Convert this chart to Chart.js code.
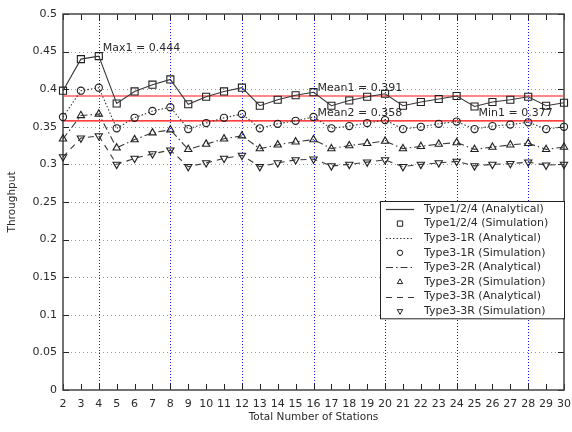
<!DOCTYPE html>
<html>
<head>
<meta charset="utf-8">
<script src="https://cdn.jsdelivr.net/npm/chart.js@4/dist/chart.umd.min.js"></script>
<style>
  html, body { margin: 0; padding: 0; background: #fff; }
</style>
</head>
<body>
<canvas id="chart" width="572" height="432"></canvas>
<script>
// x axis: total number of stations
const STATIONS = [2, 3, 4, 5, 6, 7, 8, 9, 10, 11, 12, 13, 14, 15, 16, 17, 18, 19, 20, 21, 22, 23, 24, 25, 26, 27, 28, 29, 30];
const Y_TICKS = [0, 0.05, 0.1, 0.15, 0.2, 0.25, 0.3, 0.35, 0.4, 0.45, 0.5];
const GRID_X = [4, 8, 12, 16, 20, 24, 28];

// throughput per station count (simulation points sit on the analytical curves)
const TYPE124 = [0.398, 0.440, 0.444, 0.381, 0.397, 0.406, 0.413, 0.380, 0.390, 0.397, 0.402, 0.378, 0.386, 0.392, 0.396,
                 0.378, 0.385, 0.390, 0.394, 0.378, 0.383, 0.387, 0.391, 0.377, 0.383, 0.386, 0.390, 0.378, 0.382];
const TYPE3_1R = [0.363, 0.398, 0.402, 0.348, 0.362, 0.371, 0.376, 0.347, 0.355, 0.362, 0.367, 0.348, 0.354, 0.358, 0.363,
                  0.348, 0.351, 0.355, 0.359, 0.347, 0.350, 0.354, 0.357, 0.347, 0.351, 0.353, 0.356, 0.347, 0.350];
const TYPE3_2R = [0.334, 0.365, 0.367, 0.322, 0.333, 0.342, 0.346, 0.320, 0.327, 0.334, 0.338, 0.321, 0.326, 0.330, 0.333,
                  0.321, 0.325, 0.328, 0.331, 0.321, 0.324, 0.327, 0.329, 0.320, 0.323, 0.326, 0.328, 0.320, 0.323];
const TYPE3_3R = [0.310, 0.335, 0.338, 0.300, 0.308, 0.314, 0.319, 0.297, 0.302, 0.308, 0.312, 0.297, 0.302, 0.306, 0.307,
                  0.298, 0.300, 0.303, 0.306, 0.297, 0.300, 0.302, 0.304, 0.298, 0.300, 0.301, 0.303, 0.299, 0.300];

const MEAN1 = 0.391;
const MEAN2 = 0.358;

const NOTES = [
  { text: "Max1 = 0.444", x: 4, y: 0.444 },
  { text: "Mean1 = 0.391", x: 16, y: MEAN1 },
  { text: "Mean2 = 0.358", x: 16, y: MEAN2 },
  { text: "Min1 = 0.377", x: 25, y: MEAN2 }
];

const FONT = { family: "DejaVu Sans", size: 11 };
const SMALL = { family: "DejaVu Sans", size: 10.5 };
const TEXT = "#2a2a2a";
const LINE = "#383838";
const MARK = "#202020";

function pts(values) {
  return STATIONS.map((s, i) => ({ x: s, y: values[i] }));
}

function analytical(label, values, dash) {
  return { label: label, data: pts(values), borderColor: LINE, borderWidth: 1.1, borderDash: dash,
           pointRadius: 0, pointHoverRadius: 0, tension: 0, clip: false, inLegend: true };
}

function simulation(label, values, style, radius, rotation) {
  return { label: label, data: pts(values), showLine: false, pointStyle: style, pointRadius: radius,
           pointRotation: rotation || 0, pointBorderColor: MARK, pointBackgroundColor: "rgba(255,255,255,0)",
           pointBorderWidth: 1.1, clip: false, inLegend: true };
}

function meanLine(value, color, width) {
  return { label: "", data: [{ x: STATIONS[0], y: value }, { x: STATIONS[STATIONS.length - 1], y: value }],
           borderColor: color, borderWidth: width, pointRadius: 0, tension: 0, inLegend: false };
}

// grid, frame and inward tick marks (gnuplot look)
const framePlugin = {
  id: "frame",
  beforeDatasetsDraw(chart) {
    const { ctx, chartArea: a, scales: { x, y } } = chart;
    const line = (x1, y1, x2, y2) => { ctx.beginPath(); ctx.moveTo(x1, y1); ctx.lineTo(x2, y2); ctx.stroke(); };
    ctx.save();
    ctx.lineWidth = 1;

    ctx.strokeStyle = "#9a9a9a";
    ctx.setLineDash([1, 3]);
    Y_TICKS.forEach(v => {
      if (v <= Y_TICKS[0] || v >= Y_TICKS[Y_TICKS.length - 1]) return;
      const py = Math.round(y.getPixelForValue(v)) + 0.5;
      line(a.left, py, a.right, py);
    });

    ctx.strokeStyle = "#1010ff";
    ctx.setLineDash([1, 2]);
    GRID_X.forEach(v => {
      const px = Math.round(x.getPixelForValue(v)) + 0.5;
      line(px, a.top, px, a.bottom);
    });

    ctx.setLineDash([]);
    ctx.strokeStyle = "#222";
    STATIONS.forEach(v => {
      const px = Math.round(x.getPixelForValue(v)) + 0.5;
      line(px, a.bottom, px, a.bottom - 6);
      line(px, a.top, px, a.top + 6);
    });
    Y_TICKS.forEach(v => {
      const py = Math.round(y.getPixelForValue(v)) + 0.5;
      line(a.left, py, a.left + 6, py);
      line(a.right, py, a.right - 6, py);
    });

    ctx.strokeStyle = "#444";
    ctx.lineWidth = 1.5;
    ctx.strokeRect(a.left, a.top, a.right - a.left, a.bottom - a.top);
    ctx.restore();
  }
};

// text labels and the boxed key in the lower right of the plot
const overlayPlugin = {
  id: "overlay",
  afterDatasetsDraw(chart) {
    const { ctx, chartArea: a, scales: { x, y } } = chart;
    ctx.save();
    ctx.font = FONT.size + "px " + FONT.family;
    ctx.fillStyle = TEXT;
    ctx.textBaseline = "middle";
    ctx.textAlign = "left";
    NOTES.forEach(n => {
      ctx.fillText(n.text, x.getPixelForValue(n.x) + 4, y.getPixelForValue(n.y) - 8);
    });

    const items = chart.data.datasets.filter(d => d.inLegend);
    const w = 184, rowH = 14.6;
    const h = items.length * rowH + 0.5;
    const left = a.right - w, top = a.top + 187;
    ctx.fillStyle = "#fff";
    ctx.fillRect(left, top, w, h);
    ctx.strokeStyle = "#222";
    ctx.lineWidth = 1;
    ctx.strokeRect(left + 0.5, top + 0.5, w, h);

    items.forEach((d, i) => {
      const cy = top + 8 + i * rowH;
      if (d.showLine === false) {
        ctx.strokeStyle = d.pointBorderColor;
        ctx.fillStyle = d.pointBackgroundColor;
        ctx.lineWidth = 1;
        Chart.helpers.drawPoint(ctx, { pointStyle: d.pointStyle, rotation: d.pointRotation,
          radius: d.pointRadius * 0.75, borderWidth: 1 }, left + 20, cy);
      } else {
        ctx.strokeStyle = d.borderColor;
        ctx.lineWidth = 1.2;
        ctx.setLineDash(d.borderDash || []);
        ctx.beginPath();
        ctx.moveTo(left + 6, Math.round(cy) + 0.5);
        ctx.lineTo(left + 34, Math.round(cy) + 0.5);
        ctx.stroke();
        ctx.setLineDash([]);
      }
      ctx.fillStyle = TEXT;
      ctx.fillText(d.label, left + 44, cy);
    });
    ctx.restore();
  }
};

new Chart(document.getElementById("chart"), {
  type: "line",
  data: {
    datasets: [
      analytical("Type1/2/4 (Analytical)", TYPE124, []),
      simulation("Type1/2/4 (Simulation)", TYPE124, "rect", 5),
      analytical("Type3-1R (Analytical)", TYPE3_1R, [1.5, 2]),
      simulation("Type3-1R (Simulation)", TYPE3_1R, "circle", 3.6),
      analytical("Type3-2R (Analytical)", TYPE3_2R, [7, 3, 1.5, 3]),
      simulation("Type3-2R (Simulation)", TYPE3_2R, "triangle", 4.2),
      analytical("Type3-3R (Analytical)", TYPE3_3R, [6, 5]),
      simulation("Type3-3R (Simulation)", TYPE3_3R, "triangle", 4.2, 180),
      meanLine(MEAN1, "rgba(255,70,70,0.65)", 2),
      meanLine(MEAN2, "#ff0000", 1.2)
    ]
  },
  options: {
    responsive: false,
    animation: false,
    devicePixelRatio: 1,
    layout: { padding: { top: 14, right: 8, left: 0, bottom: 0 } },
    plugins: { legend: { display: false }, tooltip: { enabled: false } },
    scales: {
      x: {
        type: "linear",
        min: STATIONS[0],
        max: STATIONS[STATIONS.length - 1],
        afterBuildTicks: s => { s.ticks = STATIONS.map(v => ({ value: v })); },
        afterFit: s => { s.height = 42; s.paddingLeft = 0; s.paddingRight = 0; },
        ticks: { autoSkip: false, maxRotation: 0, padding: 8, color: TEXT, font: FONT },
        grid: { display: false, drawTicks: false },
        border: { display: false },
        title: { display: true, text: "Total Number of Stations", color: TEXT, font: SMALL, padding: { top: 0, bottom: 8 } }
      },
      y: {
        min: Y_TICKS[0],
        max: Y_TICKS[Y_TICKS.length - 1],
        afterBuildTicks: s => { s.ticks = Y_TICKS.map(v => ({ value: v })); },
        afterFit: s => { s.width = 63; },
        ticks: { padding: 6, color: TEXT, font: FONT, callback: v => String(+v.toFixed(2)) },
        grid: { display: false, drawTicks: false },
        border: { display: false },
        title: { display: true, text: "Throughput", color: TEXT, font: SMALL, padding: { top: 6, bottom: 0 } }
      }
    }
  },
  plugins: [framePlugin, overlayPlugin]
});
</script>
</body>
</html>
